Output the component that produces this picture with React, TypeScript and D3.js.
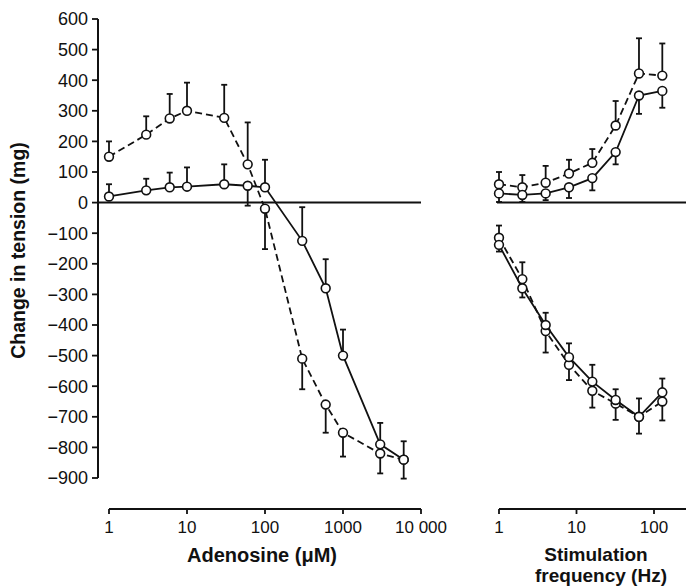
import React from "react";
import * as d3 from "d3";

// adenosine panel (µM)
const adenosineConc = [1, 3, 6, 10, 30, 60, 100, 300, 600, 1000, 3000, 6000];
const adenosineSolid = [20, 40, 50, 52, 60, 55, 50, -125, -280, -500, -790, -840];
const adenosineSolidErr = [60, 78, 98, 115, 125, -10, 140, -15, -185, -415, -720, -780];
const adenosineDashed = [150, 222, 275, 300, 277, 125, -20, -510, -660, -752, -820, -840];
const adenosineDashedErr = [200, 282, 355, 392, 385, 262, -152, -610, -752, -830, -885, -902];

// stimulation panel (Hz)
const freq = [1, 2, 4, 8, 16, 32, 64, 128];
const upperSolid = [30, 25, 30, 50, 80, 165, 350, 365];
const upperSolidErr = [2, 2, 8, 15, 40, 125, 290, 310];
const upperDashed = [60, 50, 65, 95, 130, 252, 422, 415];
const upperDashedErr = [100, 90, 120, 140, 175, 332, 537, 520];
const lowerSolid = [-138, -280, -400, -505, -585, -645, -700, -620];
const lowerSolidErr = [-160, -310, -360, -460, -530, -610, -640, -575];
const lowerDashed = [-115, -250, -420, -530, -615, -657, -700, -650];
const lowerDashedErr = [-75, -195, -490, -580, -670, -710, -755, -712];

const yTicks = d3.range(-900, 601, 100);
const adenosineTicks = [1, 10, 100, 1000, 10000];
const adenosineTickLabels = ["1", "10", "100", "1000", "10 000"];
const freqTicks = [1, 10, 100];
const freqTickLabels = ["1", "10", "100"];

const W = 686;
const H = 587;
const FONT = "'Liberation Sans', Arial, Helvetica, sans-serif";

const y = d3.scaleLinear().domain([-900, 600]).range([478, 19]);
const xA = d3.scaleLog().domain([1, 10000]).range([109, 421]);
const xF = d3.scaleLog().domain([1, 100]).range([499, 654]);

const axisY = 509;
const yAxisX = 98;

function Series({ xs, ys, errs, x, dashed }: { xs: number[]; ys: number[]; errs: number[]; x: d3.ScaleLogarithmic<number, number>; dashed?: boolean }) {
  const line = d3.line<number>().x((d, i) => x(xs[i])).y((d) => y(d));
  return (
    <g>
      {ys.map((v, i) => (
        <g key={"e" + i}>
          <line x1={x(xs[i])} x2={x(xs[i])} y1={y(v)} y2={y(errs[i])} stroke="#111" strokeWidth={1.8} />
          <line x1={x(xs[i]) - 3} x2={x(xs[i]) + 3} y1={y(errs[i])} y2={y(errs[i])} stroke="#111" strokeWidth={1.8} />
        </g>
      ))}
      <path d={line(ys) || ""} fill="none" stroke="#111" strokeWidth={1.8} strokeDasharray={dashed ? "7,4" : undefined} />
      {ys.map((v, i) => (
        <circle key={"c" + i} cx={x(xs[i])} cy={y(v)} r={4.4} fill="#fff" stroke="#111" strokeWidth={1.6} />
      ))}
    </g>
  );
}

export default function App() {
  return (
    <svg width={W} height={H} style={{ position: "absolute", left: 0, top: 0, background: "#fff" }} fontFamily={FONT}>
      {/* y axis */}
      <line x1={yAxisX} x2={yAxisX} y1={y(600)} y2={y(-900)} stroke="#111" strokeWidth={2} />
      {yTicks.map((t) => (
        <g key={t}>
          <line x1={yAxisX - 6} x2={yAxisX} y1={y(t)} y2={y(t)} stroke="#111" strokeWidth={1.8} />
          <text x={88} y={y(t)} dy="0.36em" textAnchor="end" fontSize={18} fill="#111">
            {t < 0 ? "\u2212" + Math.abs(t) : String(t)}
          </text>
        </g>
      ))}
      <text transform={`translate(25,${(y(600) + y(-900)) / 2 + 2}) rotate(-90)`} textAnchor="middle" fontSize={19.5} fontWeight="bold" fill="#111">
        Change in tension (mg)
      </text>

      {/* zero lines */}
      <line x1={yAxisX} x2={xA(10000)} y1={y(0)} y2={y(0)} stroke="#111" strokeWidth={2} />
      <line x1={xF(1) - 2} x2={W} y1={y(0)} y2={y(0)} stroke="#111" strokeWidth={2} />

      {/* adenosine x axis */}
      <line x1={xA(1)} x2={xA(10000)} y1={axisY} y2={axisY} stroke="#111" strokeWidth={2} />
      {adenosineTicks.map((t, i) => (
        <g key={t}>
          <line x1={xA(t)} x2={xA(t)} y1={axisY} y2={axisY + 5} stroke="#111" strokeWidth={1.8} />
          <text x={xA(t)} y={533} textAnchor="middle" fontSize={17} fill="#111">{adenosineTickLabels[i]}</text>
        </g>
      ))}
      <text x={262} y={562} textAnchor="middle" fontSize={20} fontWeight="bold" fill="#111">Adenosine (μM)</text>

      {/* frequency x axis */}
      <line x1={xF(1)} x2={W} y1={axisY} y2={axisY} stroke="#111" strokeWidth={2} />
      {freqTicks.map((t, i) => (
        <g key={t}>
          <line x1={xF(t)} x2={xF(t)} y1={axisY} y2={axisY + 5} stroke="#111" strokeWidth={1.8} />
          <text x={xF(t)} y={533} textAnchor="middle" fontSize={17} fill="#111">{freqTickLabels[i]}</text>
        </g>
      ))}
      <text x={596} y={561} textAnchor="middle" fontSize={19} fontWeight="bold" fill="#111">Stimulation</text>
      <text x={601} y={582} textAnchor="middle" fontSize={19} fontWeight="bold" fill="#111">frequency (Hz)</text>

      {/* data */}
      <Series xs={adenosineConc} ys={adenosineDashed} errs={adenosineDashedErr} x={xA} dashed />
      <Series xs={adenosineConc} ys={adenosineSolid} errs={adenosineSolidErr} x={xA} />
      <Series xs={freq} ys={upperDashed} errs={upperDashedErr} x={xF} dashed />
      <Series xs={freq} ys={upperSolid} errs={upperSolidErr} x={xF} />
      <Series xs={freq} ys={lowerDashed} errs={lowerDashedErr} x={xF} dashed />
      <Series xs={freq} ys={lowerSolid} errs={lowerSolidErr} x={xF} />
    </svg>
  );
}
